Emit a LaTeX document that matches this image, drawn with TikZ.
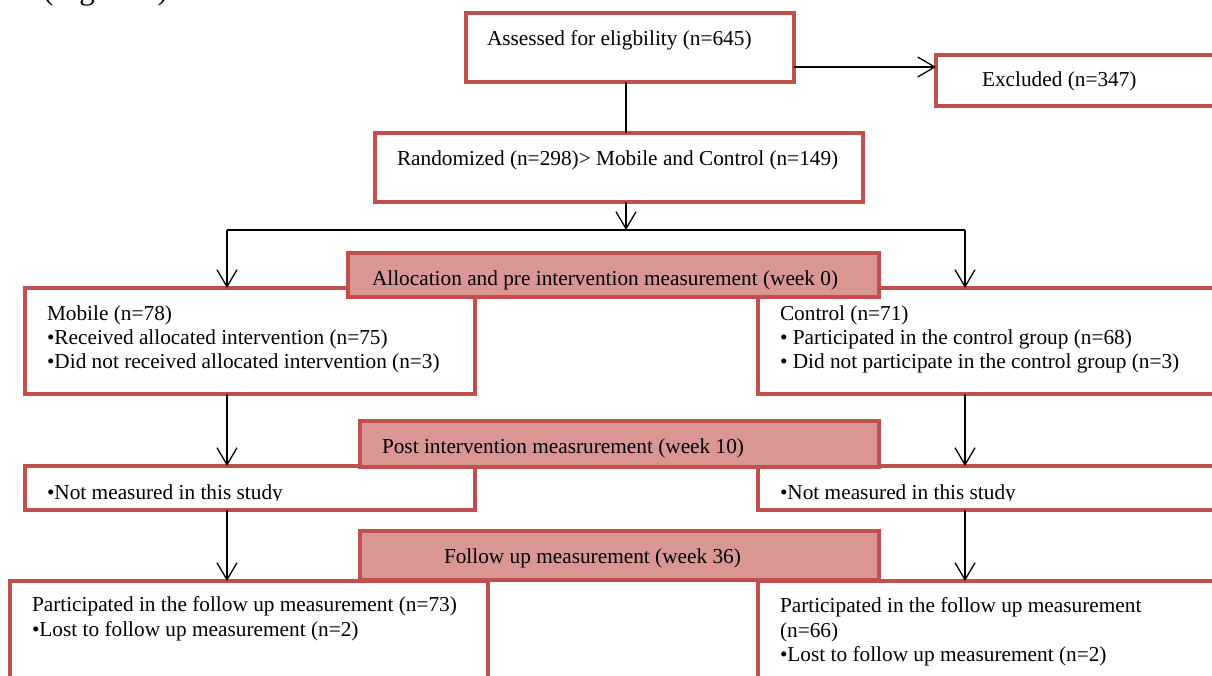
\documentclass[tikz,border=0pt]{standalone}
\usepackage{fontspec}
\setmainfont{Liberation Serif}
\usetikzlibrary{arrows.meta}
\definecolor{boxred}{HTML}{C0504D}
\definecolor{hdrfill}{HTML}{D99694}
\newcommand\diafont{\fontsize{21.3}{24.5}\selectfont}
\begin{document}
\begin{tikzpicture}[x=1pt,y=-1pt,
  rbox/.style={draw=boxred, line width=4.5pt, fill=white, rectangle, inner sep=0pt, outer sep=0pt, anchor=north west},
  hbox/.style={rbox, fill=hdrfill},
  txt/.style={anchor=base west, inner sep=0pt, outer sep=0pt, font=\diafont},
  conn/.style={line width=1.3pt, draw=black},
  arr/.style={conn, -{Straight Barb[length=17pt,width=20pt]}}]
\useasboundingbox[fill=white] (0,0) rectangle (1212,675);

% caption of the page, cut by the top edge as in the reference
\node[anchor=base west, inner sep=0pt, font=\fontsize{31}{36}\selectfont] (cap) at (43,-0.5) {(Figure 1)};

% boxes
\node[rbox, minimum width=328, minimum height=69] (assess) at (466,13) {};
\node[rbox, minimum width=300, minimum height=51] (excl) at (936,55) {};
\node[rbox, minimum width=488, minimum height=69] (rand) at (375,133) {};
\node[rbox, minimum width=450, minimum height=106] (mobile) at (25,288) {};
\node[rbox, minimum width=480, minimum height=106] (control) at (758,288) {};
\node[rbox, minimum width=450, minimum height=44] (nmL) at (25,466) {};
\node[rbox, minimum width=480, minimum height=44] (nmR) at (758,466) {};
\node[rbox, minimum width=478, minimum height=120] (fuL) at (10,581) {};
\node[rbox, minimum width=480, minimum height=120] (fuR) at (758,581) {};

% stage headers
\node[hbox, minimum width=531, minimum height=44] (alloc) at (348,253) {};
\node[hbox, minimum width=519, minimum height=46] (post) at (360,421) {};
\node[hbox, minimum width=519, minimum height=49] (follow) at (360,531) {};

% texts
\node[txt] (assessT) at (487,45) {Assessed for eligbility (n=645)};
\node[txt] (exclT) at (982,86) {Excluded (n=347)};
\node[txt] (randT) at (397,165) {Randomized (n=298)> Mobile and Control (n=149)};
\node[txt] (allocT) at (372,285) {Allocation and pre intervention measurement (week 0)};
\node[txt] (mobT1) at (47,320) {Mobile (n=78)};
\node[txt] (mobT2) at (47,344) {•Received allocated intervention (n=75)};
\node[txt] (mobT3) at (47,368) {•Did not received allocated intervention (n=3)};
\node[txt] (conT1) at (780,320) {Control (n=71)};
\node[txt] (conT2) at (780,344) {• Participated in the control group (n=68)};
\node[txt] (conT3) at (780,368) {• Did not participate in the control group (n=3)};
\node[txt] (postT) at (382,453) {Post intervention measrurement (week 10)};
\begin{scope}
\clip (0,0) rectangle (1212,500.5);
\node[txt] (nmLT) at (47,499.5) {•Not measured in this study};
\node[txt] (nmRT) at (780,499.5) {•Not measured in this study};
\end{scope}
\node[txt] (followT) at (444,563) {Follow up measurement (week 36)};
\node[txt] (fuLT1) at (32,611) {Participated in the follow up measurement (n=73)};
\node[txt] (fuLT2) at (32,636) {•Lost to follow up measurement (n=2)};
\node[txt] (fuRT1) at (780,612) {Participated in the follow up measurement};
\node[txt] (fuRT2) at (780,637) {(n=66)};
\node[txt] (fuRT3) at (780,661) {•Lost to follow up measurement (n=2)};

% connectors
\coordinate (jn) at (626,230);
\coordinate (jl) at (227,230);
\coordinate (jr) at (965,230);
\draw[arr] ([yshift=-19.5pt]assess.east) -- ([yshift=-19.5pt]assess.east -| excl.west);
\draw[conn] (assess.south -| jn) -- (rand.north -| jn);
\draw[arr] (rand.south -| jn) -- (jn);
\draw[conn] (jl) -- (jr);
\draw[arr] (jl) -- (mobile.north -| jl);
\draw[arr] (jr) -- (control.north -| jr);
\draw[arr] (mobile.south -| jl) -- (nmL.north -| jl);
\draw[arr] (control.south -| jr) -- (nmR.north -| jr);
\draw[arr] (nmL.south -| jl) -- (fuL.north -| jl);
\draw[arr] (nmR.south -| jr) -- (fuR.north -| jr);
\end{tikzpicture}
\end{document}
